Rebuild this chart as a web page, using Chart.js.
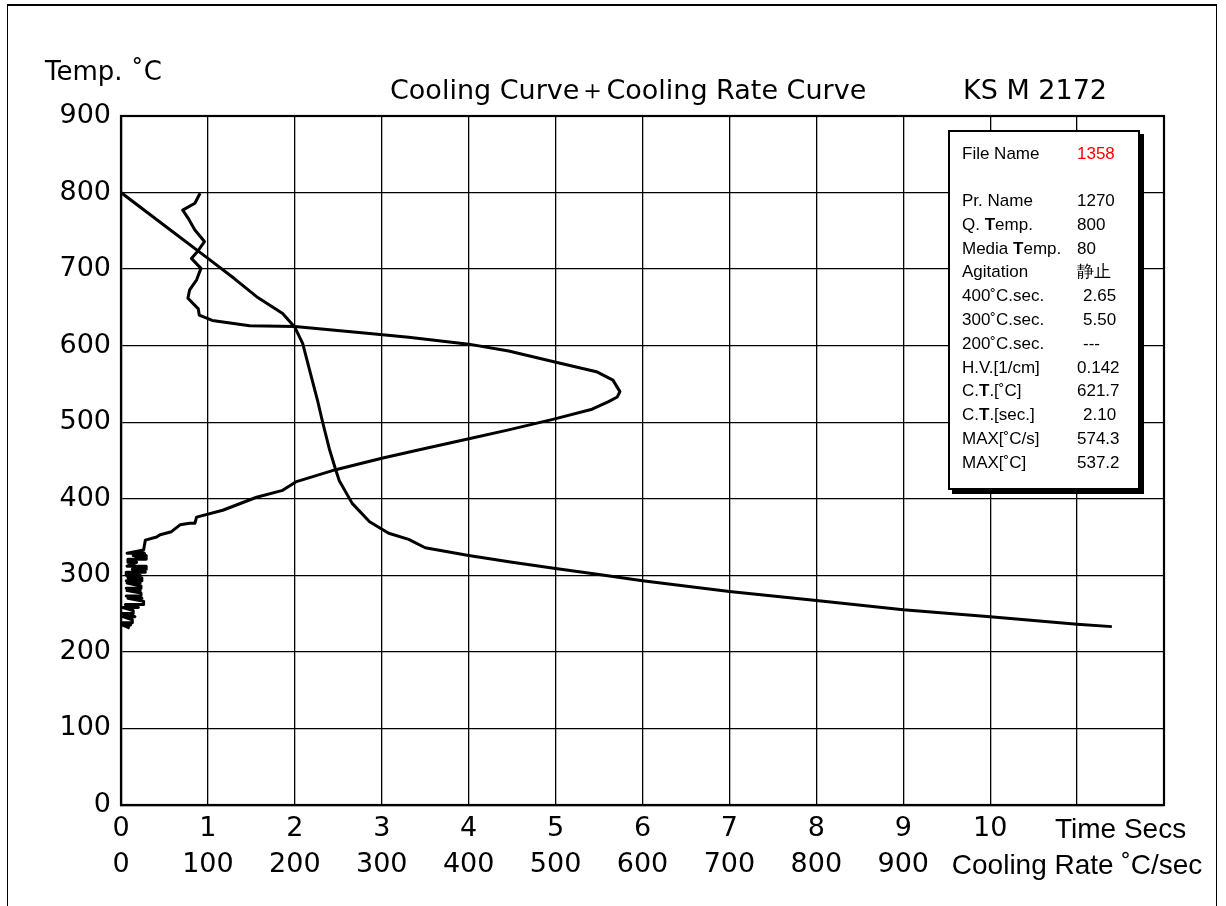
<!DOCTYPE html>
<html lang="ja">

<head>
    <meta charset="UTF-8">
    <title>Cooling Curve + Cooling Rate Curve</title>
    <script src="https://cdn.jsdelivr.net/npm/chart.js@4.4.1/dist/chart.umd.min.js"></script>
    <style>
        body { margin: 0; background: #fff; width: 1226px; height: 906px; overflow: hidden; position: relative; font-family: "DejaVu Sans", sans-serif; color: #000; }
        #frame { position: absolute; left: 7px; top: 4px; width: 1208px; height: 920px; border: 1px solid #000; border-top: 2px solid #000; }
        #wrap { position: absolute; left: 0; top: 0; width: 1226px; height: 906px; }
        .lbl { position: absolute; white-space: nowrap; }
        #info { position: absolute; left: 948px; top: 130px; width: 188px; height: 356px; border: 2px solid #000; background: #fff; box-shadow: 4px 4px 0 #000; font-family: "Liberation Sans", sans-serif; font-size: 17px; }
        #info div { position: absolute; white-space: nowrap; line-height: 20px; }
    </style>
</head>

<body>
    <div id="frame"></div>
    <div id="wrap"><canvas id="chart" width="1226" height="906"></canvas></div>
    <div class="lbl" style="left:45px;top:56px;font-size:26px;">Temp. ˚C</div>
    <div class="lbl" style="left:390px;top:72px;font-size:27px;">Cooling Curve＋Cooling Rate Curve</div>
    <div class="lbl" style="left:963px;top:74px;font-size:27px;">KS M 2172</div>
    <div id="info"></div>

<script>
    // cooling curve: time (s) vs temperature
    const timeSecs = [0, 0.5, 1.0, 1.3, 1.56, 1.86, 2.0, 2.09, 2.2, 2.26, 2.32, 2.40, 2.47, 2.51, 2.66, 2.86, 3.08, 3.31, 3.5, 4.0, 4.5, 5.0, 5.5, 6.0, 7.0, 8.0, 9.0, 10.0, 11.0, 11.4];
    const coolTemp = [800, 757, 714, 688, 664, 642, 624, 603, 555, 529, 500, 464, 438, 424, 394, 370, 355, 347, 336, 326, 317, 309, 301, 293, 279, 267, 255, 246, 236, 233];

    // cooling rate curve: rate (C/s) vs temperature
    const rateVals = [91, 85, 71, 77, 85, 96, 88, 81, 92, 87, 79, 77, 89, 90, 105, 148, 200, 286, 331, 400, 446, 498, 547, 566, 574, 571, 561, 542, 498, 446, 399, 351, 300, 247, 201, 186, 156, 117, 87, 85, 79, 68, 58, 45, 41, 28, 26,
        7, 27, 27, 14, 29, 29, 16, 29, 8, 8, 18, 7, 29, 29, 13, 28, 6, 6, 22, 8, 24, 24, 6, 22, 7, 23, 23, 6, 22, 7, 23, 23, 6, 24, 8, 26, 26, 5, 20, 2, 14, 14, 1, 16, 2, 13, 13, 1, 11, 2, 10];
    const rateTemp = [799, 786, 777, 767, 751, 736, 723, 714, 701, 686, 673, 662, 648, 640, 633, 626, 625, 616, 611, 602, 593, 579, 566, 555, 540, 533, 527, 517, 504, 490, 478, 466, 453, 438, 422, 411, 402, 385, 376, 368, 368, 366, 357, 353, 350, 346, 333,
        329, 329, 326, 326, 326, 322, 322, 321, 321, 317, 317, 312, 312, 308, 308, 304, 304, 300, 300, 297, 297, 293, 293, 290, 290, 286, 283, 283, 280, 280, 277, 273, 273, 270, 270, 266, 262, 262, 258, 258, 254, 250, 250, 246, 246, 242, 238, 238, 235, 235, 231];

    const tempTicks = [0, 100, 200, 300, 400, 500, 600, 700, 800, 900];
    const timeTicks = [0, 1, 2, 3, 4, 5, 6, 7, 8, 9, 10];
    const rateTicks = [0, 100, 200, 300, 400, 500, 600, 700, 800, 900];

    const infoLabels = ['Pr. Name', 'Q. <b>T</b>emp.', 'Media <b>T</b>emp.', 'Agitation', '400˚C.sec.', '300˚C.sec.', '200˚C.sec.', 'H.V.[1/cm]', 'C.<b>T</b>.[˚C]', 'C.<b>T</b>.[sec.]', 'MAX[˚C/s]', 'MAX[˚C]'];
    const infoValues = ['1270', '800', '80', '静止', ' 2.65', ' 5.50', ' ---', '0.142', '621.7', ' 2.10', '574.3', '537.2'];

    // info box
    var info = document.getElementById('info');
    var html = '<div style="left:12px;top:12px">File Name</div><div style="left:127px;top:12px;color:#f00">1358</div>';
    for (let i = 0; i < infoLabels.length; i++) {
        var rowTop = 59 + i * 23.8;
        var v = infoValues[i];
        var indent = v.charAt(0) == ' ' ? 6 : 0;
        html += '<div style="left:12px;top:' + rowTop + 'px">' + infoLabels[i] + '</div>' +
            '<div style="left:' + (127 + indent) + 'px;top:' + rowTop + 'px">' + v.trim() + '</div>';
    }
    info.innerHTML = html;

    const cool = timeSecs.map((t, i) => ({ x: t, y: coolTemp[i] }));
    const rate = rateVals.map((r, i) => ({ x: r, y: rateTemp[i] }));

    const frameBox = {
        id: 'frameBox',
        beforeDatasetsDraw(chart) {
            const a = chart.chartArea, c = chart.ctx;
            c.save();
            c.strokeStyle = '#000';
            c.lineWidth = 2.2;
            c.strokeRect(a.left, a.top, a.right - a.left, a.bottom - a.top);
            c.restore();
        }
    };

    const numFont = { family: 'DejaVu Sans', size: 27 };
    const endFont = { family: 'Liberation Sans', size: 28 };

    new Chart(document.getElementById('chart'), {
        type: 'scatter',
        data: {
            datasets: [{
                    label: 'Cooling Curve',
                    data: cool,
                    xAxisID: 'x',
                    yAxisID: 'y',
                    showLine: true,
                    borderColor: '#000',
                    borderWidth: 3,
                    borderJoinStyle: 'round',
                    pointRadius: 0,
                    tension: 0
                },
                {
                    label: 'Cooling Rate Curve',
                    data: rate,
                    xAxisID: 'xr',
                    yAxisID: 'y',
                    showLine: true,
                    borderColor: '#000',
                    borderWidth: 3,
                    borderJoinStyle: 'round',
                    pointRadius: 0,
                    tension: 0
                }
            ]
        },
        options: {
            responsive: false,
            animation: false,
            layout: { padding: { left: 0, top: 116, right: 62, bottom: 25 } },
            plugins: { legend: { display: false }, tooltip: { enabled: false } },
            scales: {
                x: {
                    type: 'linear',
                    position: 'bottom',
                    weight: 0,
                    min: 0,
                    max: 12,
                    afterBuildTicks(axis) {
                        axis.ticks = timeTicks.concat([11, 11.5, 12]).map(v => ({ value: v }));
                    },
                    afterFit(s) { s.height = 38; },
                    grid: {
                        color: ctx => (ctx.tick && ctx.tick.value == 11.5) ? 'rgba(0,0,0,0)' : '#000',
                        lineWidth: 1.3,
                        drawTicks: false
                    },
                    border: { color: '#000', width: 2.2 },
                    ticks: {
                        autoSkip: false,
                        maxRotation: 0,
                        color: '#000',
                        padding: 8,
                        font: ctx => (ctx.tick && ctx.tick.value > 10) ? endFont : numFont,
                        callback: v => v <= 10 ? String(v) : (v == 11.5 ? 'Time Secs' : '')
                    }
                },
                xr: {
                    type: 'linear',
                    position: 'bottom',
                    weight: 1,
                    min: 0,
                    max: 1200,
                    afterBuildTicks(axis) {
                        axis.ticks = rateTicks.concat([1100]).map(v => ({ value: v }));
                    },
                    afterFit(s) { s.height = 38; },
                    grid: { display: false, drawTicks: false },
                    border: { display: false },
                    ticks: {
                        autoSkip: false,
                        maxRotation: 0,
                        color: '#000',
                        padding: 6,
                        font: ctx => (ctx.tick && ctx.tick.value > 1000) ? endFont : numFont,
                        callback: v => v <= 900 ? String(v) : (v == 1100 ? 'Cooling Rate ˚C/sec' : '')
                    }
                },
                y: {
                    type: 'linear',
                    min: 0,
                    max: 900,
                    afterBuildTicks(axis) {
                        axis.ticks = tempTicks.map(v => ({ value: v }));
                    },
                    afterFit(s) { s.width = 121; },
                    grid: { color: '#000', lineWidth: 1.3, drawTicks: false },
                    border: { color: '#000', width: 2.2 },
                    ticks: { color: '#000', padding: 10, font: numFont }
                }
            }
        },
        plugins: [frameBox]
    });
</script>
</body>

</html>
